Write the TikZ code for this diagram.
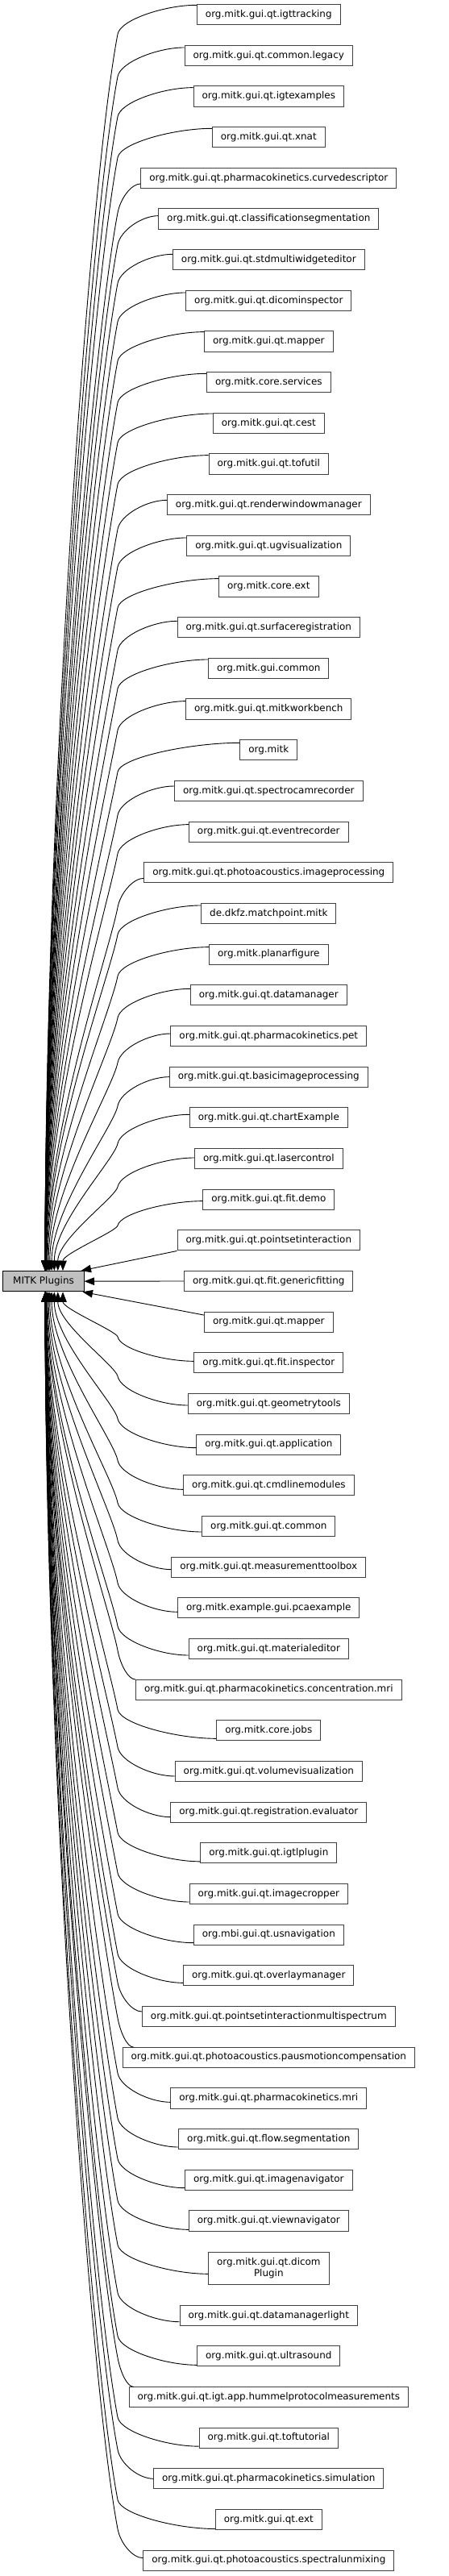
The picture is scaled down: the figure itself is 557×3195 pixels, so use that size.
\documentclass[tikz,border=0pt]{standalone}
\usepackage{fontspec}
\newfontfamily\dejavu{DejaVu Sans}
\usetikzlibrary{calc,arrows.meta}
\begin{document}
\begin{tikzpicture}[x=1bp,y=1bp,
  box/.style={draw=black!75, fill=white, line width=1bp,
    font=\dejavu\fontsize{12}{14.3}\selectfont, text=black,
    inner xsep=10.5bp, inner ysep=0pt, minimum height=25.3bp, align=center},
  rootbox/.style={draw=black, fill=black!25, line width=1bp,
    font=\dejavu\fontsize{12}{14.3}\selectfont, text=black,
    inner sep=0pt, minimum width=100bp, minimum height=25.3bp},
  edge/.style={draw=black, line width=0.9bp, -{Triangle[length=12.5bp,width=9.5bp]}},
  n56/.style={minimum height=39.7bp}]
\useasboundingbox (0,0) rectangle (557,-3195);
\node[rootbox] (mp) at (54,-1589.2) {MITK Plugins};
\foreach \k/\ox/\oy/\lab in {
 1/0/-12/org.mitk.gui.qt.igttracking,
 2/0/-10/org.mitk.gui.qt.common.legacy,
 3/0/-11/org.mitk.gui.qt.igtexamples,
 4/0/-11/org.mitk.gui.qt.xnat,
 5/0/7/org.mitk.gui.qt.pharmacokinetics.curvedescriptor,
 6/0/-4/org.mitk.gui.qt.classificationsegmentation,
 7/0/-7/org.mitk.gui.qt.stdmultiwidgeteditor,
 8/0/-10/org.mitk.gui.qt.dicominspector,
 9/0/-12/org.mitk.gui.qt.mapper,
 10/0/-11/org.mitk.core.services,
 11/0/-12/org.mitk.gui.qt.cest,
 12/0/-11/org.mitk.gui.qt.tofutil,
 13/0/-6/org.mitk.gui.qt.renderwindowmanager,
 14/0/-10/org.mitk.gui.qt.ugvisualization,
 15/0/-10/org.mitk.core.ext,
 16/0/-8/org.mitk.gui.qt.surfaceregistration,
 17/0/-11/org.mitk.gui.common,
 18/0/-10/org.mitk.gui.qt.mitkworkbench,
 19/0/-9/org.mitk,
 20/0/-6/org.mitk.gui.qt.spectrocamrecorder,
 21/0/-9/org.mitk.gui.qt.eventrecorder,
 22/0/7/org.mitk.gui.qt.photoacoustics.imageprocessing,
 23/0/-10/de.dkfz.matchpoint.mitk,
 24/0/-9/org.mitk.planarfigure,
 25/0/-8/org.mitk.gui.qt.datamanager,
 26/0/-3/org.mitk.gui.qt.pharmacokinetics.pet,
 27/0/0/org.mitk.gui.qt.basicimageprocessing,
 28/0/-4/org.mitk.gui.qt.chartExample,
 29/0/-1/org.mitk.gui.qt.lasercontrol,
 30/0/2/org.mitk.gui.qt.fit.demo,
 31/0/0/org.mitk.gui.qt.pointsetinteraction,
 32/0/0/org.mitk.gui.qt.fit.genericfitting,
 33/0/0/org.mitk.gui.qt.mapper,
 34/0/-2/org.mitk.gui.qt.fit.inspector,
 35/0/2/org.mitk.gui.qt.geometrytools,
 36/0/4/org.mitk.gui.qt.application,
 37/0/5/org.mitk.gui.qt.cmdlinemodules,
 38/0/7/org.mitk.gui.qt.common,
 39/0/3/org.mitk.gui.qt.measurementtoolbox,
 40/0/5/org.mitk.example.gui.pcaexample,
 41/0/8/org.mitk.gui.qt.materialeditor,
 42/0/-12.6/org.mitk.gui.qt.pharmacokinetics.concentration.mri,
 43/0/10/org.mitk.core.jobs,
 44/0/6/org.mitk.gui.qt.volumevisualization,
 45/0/6/org.mitk.gui.qt.registration.evaluator,
 46/0/10.5/org.mitk.gui.qt.igtlplugin,
 47/0/10/org.mitk.gui.qt.imagecropper,
 48/0/10/org.mbi.gui.qt.usnavigation,
 49/0/9/org.mitk.gui.qt.overlaymanager,
 50/0/-6/org.mitk.gui.qt.pointsetinteractionmultispectrum,
 51/14/-12.6/org.mitk.gui.qt.photoacoustics.pausmotioncompensation,
 52/0/5/org.mitk.gui.qt.pharmacokinetics.mri,
 53/0/10/org.mitk.gui.qt.flow.segmentation,
 54/0/10/org.mitk.gui.qt.imagenavigator,
 55/0/11/org.mitk.gui.qt.viewnavigator,
 56/0/7/{org.mitk.gui.qt.dicom\\Plugin},
 57/0/8/org.mitk.gui.qt.datamanagerlight,
 58/0/11/org.mitk.gui.qt.ultrasound,
 59/6/-12.6/org.mitk.gui.qt.igt.app.hummelprotocolmeasurements,
 60/0/10.5/org.mitk.gui.qt.toftutorial,
 61/0/0/org.mitk.gui.qt.pharmacokinetics.simulation,
 62/0/11.5/org.mitk.gui.qt.ext,
 63/0/-3/org.mitk.gui.qt.photoacoustics.spectralunmixing}{
  \pgfmathsetmacro\Y{(\k<56) ? (18.3+(\k-1)*50.667) : ((\k==56) ? 2813.3 : ((\k==57) ? 2871.7 : (2922.3+(\k-58)*50.667)))}
  \node[box, n\k/.try] (n\k) at (333.3,-\Y) {\lab};
  \pgfmathsetmacro\ys{\Y+\oy}
  \coordinate (s\k) at ($(n\k.west)+(\ox,-\oy)$);
  \ifnum\k<31
    \pgfmathsetmacro\h{min(36,0.35*(1576.55-\ys))}
    \pgfmathsetmacro\yT{\ys+\h}
    \pgfmathsetmacro\Lb{1576.55-\yT}
    \pgfmathsetmacro\ctwoy{\yT-0.5*\h}
    \pgfmathsetmacro\cthreey{\yT+0.12*\Lb}
    \pgfmathsetmacro\cfoury{1576.55-0.38*\Lb}
    \pgfmathsetmacro\xa{56+22*exp(-(30-\k)/3)}
    \draw[edge] (s\k) .. controls ($(s\k)!0.4!(146,-\ys)$) and (146+0.095*\h,-\ctwoy) .. (146,-\yT)
      .. controls (146-0.0228*\Lb,-\cthreey) and (\xa,-\cfoury) .. ($(mp.north)+(\xa-54,0)$);
  \else\ifnum\k>33
    \pgfmathsetmacro\h{min(36,0.35*(\ys-1601.85))}
    \pgfmathsetmacro\yT{\ys-\h}
    \pgfmathsetmacro\Lb{\yT-1601.85}
    \pgfmathsetmacro\ctwoy{\yT+0.5*\h}
    \pgfmathsetmacro\cthreey{\yT-0.12*\Lb}
    \pgfmathsetmacro\cfoury{1601.85+0.38*\Lb}
    \pgfmathsetmacro\xa{56+22*exp(-(\k-34)/3)}
    \draw[edge] (s\k) .. controls ($(s\k)!0.4!(146,-\ys)$) and (146+0.095*\h,-\ctwoy) .. (146,-\yT)
      .. controls (146-0.0228*\Lb,-\cthreey) and (\xa,-\cfoury) .. ($(mp.south)+(\xa-54,0)$);
  \fi\fi
}
\draw[edge] (n31.south west) -- ($(mp.north east)+(-4,0)$);
\draw[edge] (n32.west) -- (mp.east);
\draw[edge] ($(n33.west)+(0,8.6)$) -- ($(mp.south east)+(-2,0)$);
\end{tikzpicture}
\end{document}
